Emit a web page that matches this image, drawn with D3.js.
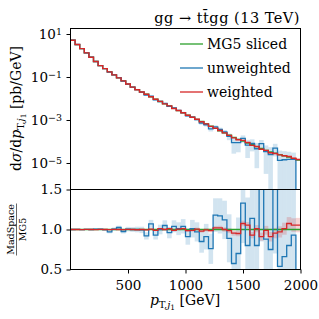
<!DOCTYPE html>
<html lang="en">
<head>
<meta charset="UTF-8">
<title>gg to ttgg leading jet pT</title>
<style>
body { margin: 0; background: white; }
text { font-family: 'DejaVu Serif', serif; fill: black; }
.tick text { font-size: 13.5px; }
.tick line { stroke: black; }
</style>
<script src="https://d3js.org/d3.v7.min.js"></script>
</head>
<body>
<script>

// 50 bins of 40 GeV
var binEdges = d3.range(0, 2001, 40);

// MG5 sliced reference, pb/GeV
var mg5 = [
  5.13, 3.24, 2.09, 1.32, 0.832, 0.525, 0.339, 0.245, 0.174, 0.126,
  0.0912, 0.0661, 0.0468, 0.0339, 0.0257, 0.0200, 0.0158, 0.0120, 0.00933, 0.00724,
  0.00562, 0.00447, 0.00347, 0.00275, 0.00214, 0.00170, 0.00135, 0.00107, 8.51e-4, 6.61e-4,
  5.13e-4, 4.07e-4, 3.16e-4, 2.51e-4, 1.95e-4, 1.55e-4, 1.26e-4, 1.05e-4, 8.51e-5, 7.08e-5,
  5.75e-5, 4.79e-5, 3.89e-5, 3.31e-5, 2.88e-5, 2.45e-5, 2.14e-5, 1.86e-5, 1.58e-5, 1.38e-5
];

// MadSpace unweighted / MG5
var unwRatio = [
  1.000, 1.001, 0.999, 1.002, 1.000, 1.003, 1.004, 0.998, 0.970, 1.005,
  1.025, 0.975, 1.005, 1.000, 1.000, 0.995, 0.920, 1.070, 0.930, 1.000,
  1.050, 0.960, 1.040, 1.010, 1.040, 0.910, 1.010, 0.970, 0.850, 0.910,
  0.760, 1.180, 1.170, 1.120, 0.890, 0.575, 0.700, 1.330, 0.800, 1.140,
  0.800, 1.650, 0.880, 0.750, 1.700, 0.540, 0.660, 0.800, 0.930, 0
];
var unwErr = [
  0.003, 0.004, 0.005, 0.006, 0.008, 0.010, 0.012, 0.015, 0.018, 0.020,
  0.022, 0.025, 0.028, 0.030, 0.035, 0.040, 0.045, 0.050, 0.055, 0.060,
  0.065, 0.070, 0.075, 0.080, 0.090, 0.100, 0.110, 0.120, 0.140, 0.160,
  0.190, 0.210, 0.220, 0.240, 0.300, 0.400, 0.450, 0.500, 0.600, 0.650,
  0.700, 0.800, 0.800, 0.900, 1.000, 1.000, 1.000, 1.000, 1.000, 0
];

// MadSpace weighted / MG5
var wRatio = [
  1.000, 1.000, 0.999, 1.001, 1.000, 0.999, 1.002, 1.000, 0.998, 1.001,
  1.000, 0.998, 1.002, 1.000, 0.997, 1.000, 0.995, 1.005, 0.990, 1.010,
  1.000, 1.010, 0.990, 1.005, 1.010, 0.985, 0.990, 1.005, 0.980, 0.995,
  0.985, 1.020, 1.020, 1.000, 0.985, 0.955, 0.950, 1.075, 1.055, 0.930,
  1.010, 0.910, 0.990, 0.910, 0.955, 0.970, 1.010, 1.075, 1.055, 1.055
];
var wErr = [
  0.002, 0.002, 0.002, 0.003, 0.003, 0.003, 0.003, 0.004, 0.004, 0.004,
  0.005, 0.005, 0.006, 0.006, 0.007, 0.007, 0.008, 0.008, 0.009, 0.010,
  0.011, 0.012, 0.013, 0.014, 0.015, 0.016, 0.017, 0.018, 0.019, 0.020,
  0.022, 0.024, 0.026, 0.028, 0.030, 0.032, 0.034, 0.036, 0.038, 0.040,
  0.045, 0.050, 0.055, 0.060, 0.065, 0.070, 0.075, 0.080, 0.085, 0.090
];

var xTicks = [500, 1000, 1500, 2000];
var yTicks = [1e1, 1e-1, 1e-3, 1e-5];
var rTicks = [0.5, 1.0, 1.5];
var legendLabels = ['MG5 sliced', 'unweighted', 'weighted'];

var colors = { mg5: '#2ca02c', unw: '#1f77b4', w: '#d62728' };

var L = 70.5, R = 300.5, T = 28.5, M = 189.5, B = 269.5;

var svg = d3.select('body').append('svg').attr('width', 319).attr('height', 319);

var x = d3.scaleLinear().domain([0, 2000]).range([L, R]);
var y = d3.scaleLog().domain([Math.pow(10, -6.233), Math.pow(10, 1.256)]).range([M, T]);
var yr = d3.scaleLinear().domain([0.5, 1.5]).range([B, M]);

var defs = svg.append('defs');
defs.append('clipPath').attr('id', 'clipTop')
  .append('rect').attr('x', L).attr('y', T).attr('width', R - L).attr('height', M - T);
defs.append('clipPath').attr('id', 'clipBot')
  .append('rect').attr('x', L).attr('y', M).attr('width', R - L).attr('height', B - M);

var n = mg5.length;
var bins = mg5.map(function (v, i) {
  return { x0: binEdges[i], x1: binEdges[i + 1], mg5: v,
           ur: unwRatio[i], ue: unwErr[i], wr: wRatio[i], we: wErr[i] };
});

function ySafe(v) { return v > 0 ? y(v) : M + 30; }

function stepPath(vals, scale) {
  var pts = vals.map(function (v, i) { return [binEdges[i], v]; });
  pts.push([binEdges[n], vals[n - 1]]);
  return d3.line()
    .x(function (d) { return x(d[0]); })
    .y(function (d) { return scale(d[1]); })
    .curve(d3.curveStepAfter)(pts);
}

var gTop = svg.append('g').attr('clip-path', 'url(#clipTop)');
var gBot = svg.append('g').attr('clip-path', 'url(#clipBot)');

// error bands
[['ur', 'ue', colors.unw], ['wr', 'we', colors.w]].forEach(function (s) {
  gTop.append('g').selectAll('rect').data(bins).enter().append('rect')
    .attr('x', function (d) { return x(d.x0); })
    .attr('width', function (d) { return x(d.x1) - x(d.x0); })
    .attr('y', function (d) { return ySafe(d.mg5 * (d[s[0]] + d[s[1]])); })
    .attr('height', function (d) {
      return ySafe(d.mg5 * (d[s[0]] - d[s[1]])) - ySafe(d.mg5 * (d[s[0]] + d[s[1]]));
    })
    .attr('fill', s[2]).attr('fill-opacity', 0.2);

  gBot.append('g').selectAll('rect').data(bins).enter().append('rect')
    .attr('x', function (d) { return x(d.x0); })
    .attr('width', function (d) { return x(d.x1) - x(d.x0); })
    .attr('y', function (d) { return yr(d[s[0]] + d[s[1]]); })
    .attr('height', function (d) { return yr(d[s[0]] - d[s[1]]) - yr(d[s[0]] + d[s[1]]); })
    .attr('fill', s[2]).attr('fill-opacity', 0.2);
});

// spectra
var unw = bins.map(function (d) { return d.mg5 * d.ur; });
var wgt = bins.map(function (d) { return d.mg5 * d.wr; });

gTop.append('path').attr('d', stepPath(mg5, y)).attr('fill', 'none')
  .attr('stroke', colors.mg5).attr('stroke-width', 1.3);
gTop.append('path').attr('d', stepPath(unw, ySafe)).attr('fill', 'none')
  .attr('stroke', colors.unw).attr('stroke-width', 1.3);
gTop.append('path').attr('d', stepPath(wgt, y)).attr('fill', 'none')
  .attr('stroke', colors.w).attr('stroke-width', 1.4);

// ratios
var one = mg5.map(function (v) { return v / v; });
var unwR = unwRatio.map(function (v) { return v === 0 ? -1 : v; });
gBot.append('path').attr('d', stepPath(one, yr)).attr('fill', 'none')
  .attr('stroke', colors.mg5).attr('stroke-width', 1.3);
gBot.append('path').attr('d', stepPath(unwR, yr)).attr('fill', 'none')
  .attr('stroke', colors.unw).attr('stroke-width', 1.3);
gBot.append('path').attr('d', stepPath(wRatio, yr)).attr('fill', 'none')
  .attr('stroke', colors.w).attr('stroke-width', 1.3);

// frames
svg.append('rect').attr('x', L).attr('y', T).attr('width', R - L).attr('height', M - T)
  .attr('fill', 'none').attr('stroke', 'black').attr('stroke-width', 1);
svg.append('rect').attr('x', L).attr('y', M).attr('width', R - L).attr('height', B - M)
  .attr('fill', 'none').attr('stroke', 'black').attr('stroke-width', 1);

// axes
var gy = svg.append('g').attr('transform', 'translate(' + L + ',0)')
  .call(d3.axisLeft(y).tickValues(yTicks).tickSize(4).tickPadding(4.5).tickFormat(''));
gy.select('.domain').remove();
gy.selectAll('.tick text').each(function (d) {
  var t = d3.select(this);
  var p = Math.round(Math.log10(d));
  t.append('tspan').text('10');
  t.append('tspan').attr('dy', '-0.45em').attr('font-size', '9.5px')
    .text(String(p).replace('-', '\u2212'));
});

var gr = svg.append('g').attr('transform', 'translate(' + L + ',0)')
  .call(d3.axisLeft(yr).tickValues(rTicks).tickSize(4).tickPadding(4.5).tickFormat(d3.format('.1f')));
gr.select('.domain').remove();

var gx = svg.append('g').attr('transform', 'translate(0,' + B + ')')
  .call(d3.axisBottom(x).tickValues(xTicks).tickSize(4).tickPadding(6.5).tickFormat(d3.format('d')));
gx.select('.domain').remove();

// title
svg.append('text').attr('x', 300).attr('y', 23).attr('text-anchor', 'end')
  .attr('font-size', '14.5px').attr('letter-spacing', '0.5px')
  .text('gg \u2192 tt\u0304gg (13 TeV)');

// legend
legendLabels.forEach(function (lab, i) {
  var c = [colors.mg5, colors.unw, colors.w][i];
  var ly = 44 + i * 24;
  svg.append('line').attr('x1', 180).attr('x2', 203).attr('y1', ly).attr('y2', ly)
    .attr('stroke', c).attr('stroke-width', 1.3);
  svg.append('text').attr('x', 207).attr('y', ly + 4.5).attr('font-size', '14px').text(lab);
});

// x label
var xl = svg.append('text').attr('x', 185).attr('y', 305).attr('text-anchor', 'middle')
  .attr('font-size', '14px');
xl.append('tspan').attr('font-style', 'italic').text('p');
xl.append('tspan').attr('font-size', '10px').attr('dy', 3).text('T,');
xl.append('tspan').attr('font-size', '10px').attr('font-style', 'italic').text('j');
xl.append('tspan').attr('font-size', '7.5px').attr('dy', 1.5).text('1');
xl.append('tspan').attr('dy', -4.5).text(' [GeV]');

// y label
var yl = svg.append('text').attr('transform', 'translate(21,108.5) rotate(-90)')
  .attr('text-anchor', 'middle').attr('font-size', '14px');
yl.append('tspan').text('d');
yl.append('tspan').attr('font-style', 'italic').text('\u03c3');
yl.append('tspan').text('/d');
yl.append('tspan').attr('font-style', 'italic').text('p');
yl.append('tspan').attr('font-size', '10px').attr('dy', 3).text('T,');
yl.append('tspan').attr('font-size', '10px').attr('font-style', 'italic').text('j');
yl.append('tspan').attr('font-size', '7.5px').attr('dy', 1.5).text('1');
yl.append('tspan').attr('dy', -4.5).text(' [pb/GeV]');

// ratio label
var rl = svg.append('g').attr('transform', 'translate(16.5,229.5) rotate(-90)');
rl.append('text').attr('text-anchor', 'middle').attr('y', -3).attr('font-size', '9.5px').text('MadSpace');
rl.append('line').attr('x1', -26).attr('x2', 26).attr('y1', 0).attr('y2', 0)
  .attr('stroke', 'black').attr('stroke-width', 0.6);
rl.append('text').attr('text-anchor', 'middle').attr('y', 9).attr('font-size', '9.5px').text('MG5');
</script>
</body>
</html>
